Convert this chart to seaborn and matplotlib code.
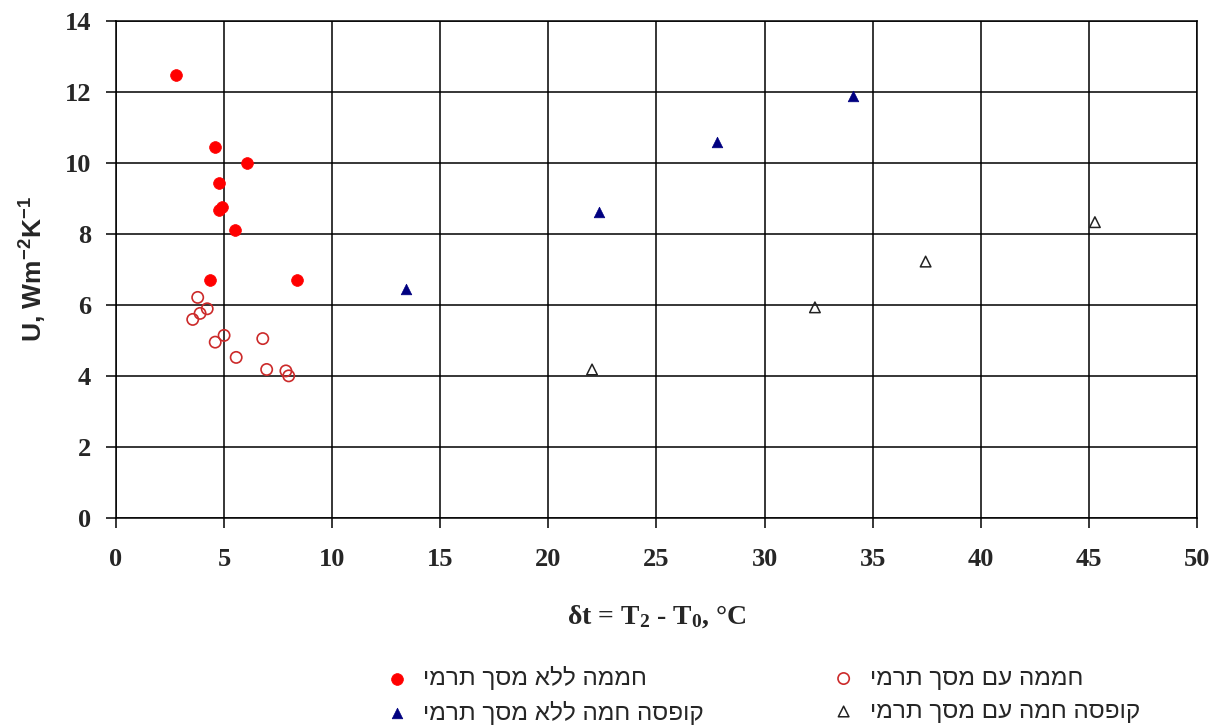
import matplotlib
matplotlib.use("Agg")
import matplotlib.pyplot as plt
import seaborn as sns
import pandas as pd

# Greenhouse without thermal screen
gh_bare_dt = [2.78, 4.58, 6.07, 4.76, 4.75, 4.92, 5.49, 4.36, 8.37]
gh_bare_u = [12.46, 10.44, 9.99, 9.41, 8.65, 8.75, 8.09, 6.70, 6.70]

# Greenhouse with thermal screen
gh_screen_dt = [3.78, 4.22, 3.89, 3.55, 5.00, 4.59, 6.79, 5.56, 6.97, 7.86, 7.99]
gh_screen_u = [6.20, 5.88, 5.75, 5.58, 5.13, 4.94, 5.04, 4.51, 4.17, 4.13, 3.99]

# Hot box without thermal screen
box_bare_dt = [13.40, 22.34, 27.81, 34.10]
box_bare_u = [6.43, 8.60, 10.59, 11.88]

# Hot box with thermal screen
box_screen_dt = [22.02, 32.33, 37.45, 45.28]
box_screen_u = [4.17, 5.92, 7.21, 8.32]

series_labels = [
    "חממה ללא מסך תרמי",
    "חממה עם מסך תרמי",
    "קופסה חמה ללא מסך תרמי",
    "קופסה חמה עם מסך תרמי",
]

x_ticks = [0, 5, 10, 15, 20, 25, 30, 35, 40, 45, 50]
y_ticks = [0, 2, 4, 6, 8, 10, 12, 14]


def rtl(text):
    # matplotlib lays glyphs out left to right; flip Hebrew runs for display
    return text[::-1]


sns.set_style("ticks")
plt.rcParams["font.family"] = ["Liberation Serif", "DejaVu Serif"]
plt.rcParams["mathtext.fontset"] = "custom"
plt.rcParams["mathtext.rm"] = "Liberation Serif:bold"
plt.rcParams["mathtext.bf"] = "Liberation Serif:bold"
plt.rcParams["mathtext.it"] = "Liberation Serif:bold"
plt.rcParams["mathtext.sf"] = "Liberation Sans:bold"
plt.rcParams["mathtext.default"] = "rm"

fig = plt.figure(figsize=(12.26, 7.25), dpi=100)
ax = fig.add_axes([0.0946, 0.2862, 0.8817, 0.6855])

df_a = pd.DataFrame({"dt": gh_bare_dt, "u": gh_bare_u})
df_b = pd.DataFrame({"dt": gh_screen_dt, "u": gh_screen_u})
df_c = pd.DataFrame({"dt": box_bare_dt, "u": box_bare_u})
df_d = pd.DataFrame({"dt": box_screen_dt, "u": box_screen_u})

sns.scatterplot(data=df_a, x="dt", y="u", ax=ax, marker="o", s=72,
                color="#ff0000", edgecolor="#ff0000", linewidth=0.5,
                label=rtl(series_labels[0]), zorder=3)
sns.scatterplot(data=df_b, x="dt", y="u", ax=ax, marker="o", s=66,
                color="#cc2a2a", facecolor="none", edgecolor="#cc2a2a",
                linewidth=1.2, label=rtl(series_labels[1]), zorder=3)
sns.scatterplot(data=df_c, x="dt", y="u", ax=ax, marker="^", s=58,
                color="#000080", edgecolor="#000080", linewidth=0.5,
                label=rtl(series_labels[2]), zorder=3)
sns.scatterplot(data=df_d, x="dt", y="u", ax=ax, marker="^", s=58,
                color="#222222", facecolor="none", edgecolor="#222222",
                linewidth=1.1, label=rtl(series_labels[3]), zorder=3)

ax.set_xlim(x_ticks[0], x_ticks[-1])
ax.set_ylim(y_ticks[0], y_ticks[-1])
ax.set_xticks(x_ticks)
ax.set_yticks(y_ticks)
ax.set_xticklabels([str(v) for v in x_ticks], fontweight="bold", fontsize=19)
ax.set_yticklabels([str(v) for v in y_ticks], fontweight="bold", fontsize=19)
ax.tick_params(axis="x", direction="out", length=7, width=1.1, pad=15, color="black")
ax.tick_params(axis="y", direction="out", length=7, width=1.1, pad=11, color="black")

ax.grid(True, color="black", linewidth=1.1)
ax.set_axisbelow(True)
for side in ["left", "bottom", "top", "right"]:
    ax.spines[side].set_visible(True)
    ax.spines[side].set_color("black")
    ax.spines[side].set_linewidth(1.1)

ax.set_xlabel("δt = T$_2$ - T$_0$, °C", fontsize=20, fontweight="bold", labelpad=23)
ax.set_ylabel(r"U, Wm$\mathsf{^{-2}}$K$\mathsf{^{-1}}$", fontsize=19,
              fontweight="bold", family="Liberation Sans", labelpad=11)

handles, labels = ax.get_legend_handles_labels()
ax.get_legend().remove()
order = [0, 2, 1, 3]
fig.legend([handles[i] for i in order], [labels[i] for i in order],
           ncol=2, loc="upper left", bbox_to_anchor=(0.314, 0.0815),
           frameon=False, prop={"family": "Liberation Sans", "size": 17.5},
           handlelength=1.0, handletextpad=0.57, columnspacing=5.25,
           labelspacing=0.45, borderaxespad=0, borderpad=0)

fig.savefig("out.png", dpi=100)
